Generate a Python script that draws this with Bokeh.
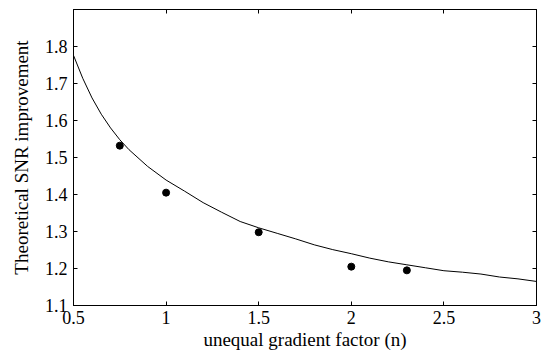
from bokeh.plotting import figure
from bokeh.models import LinearAxis, Range1d, FixedTicker
from bokeh.embed import file_html
from bokeh.resources import INLINE

# theoretical curve
curve_n = [0.5, 0.55, 0.6, 0.65, 0.7, 0.75, 0.8, 0.9, 1.0, 1.1, 1.2, 1.3, 1.4, 1.5,
           1.6, 1.7, 1.8, 1.9, 2.0, 2.1, 2.2, 2.3, 2.4, 2.5, 2.6, 2.7, 2.8, 2.9, 3.0]
curve_snr = [1.776, 1.714, 1.661, 1.617, 1.580, 1.548, 1.521, 1.476, 1.439, 1.409,
             1.378, 1.352, 1.327, 1.310, 1.295, 1.280, 1.264, 1.251, 1.240, 1.228,
             1.218, 1.210, 1.202, 1.194, 1.190, 1.185, 1.177, 1.172, 1.165]

# measured points
meas_n = [0.75, 1.0, 1.5, 2.0, 2.3]
meas_snr = [1.532, 1.405, 1.298, 1.205, 1.195]

x_ticks = [0.5, 1, 1.5, 2, 2.5, 3]
y_ticks = [1.1, 1.2, 1.3, 1.4, 1.5, 1.6, 1.7, 1.8]

FONT = "Liberation Serif"

p = figure(frame_width=463, frame_height=296, output_backend="svg", toolbar_location=None,
           x_range=Range1d(0.5, 3.0), y_range=Range1d(1.1, 1.9),
           min_border_left=73, min_border_right=7, min_border_top=9, min_border_bottom=42)
p.background_fill_color = "white"
p.border_fill_color = "white"
p.outline_line_color = "black"
p.outline_line_width = 1
p.grid.visible = False

p.line(curve_n, curve_snr, line_color="black", line_width=1)
p.scatter(meas_n, meas_snr, size=7, fill_color="black", line_color="black")

xa = p.xaxis[0]
xa.ticker = FixedTicker(ticks=x_ticks)
ya = p.yaxis[0]
ya.ticker = FixedTicker(ticks=y_ticks)
for ax in (xa, ya):
    ax.major_tick_in = 4
    ax.major_tick_out = 0
    ax.minor_tick_in = 0
    ax.minor_tick_out = 0
    ax.axis_line_color = "black"
    ax.major_tick_line_color = "black"
    ax.major_label_text_font = FONT
    ax.major_label_text_font_size = "18px"
    ax.major_label_text_color = "black"
    ax.axis_label_text_font = FONT
    ax.axis_label_text_font_style = "normal"
    ax.axis_label_text_font_size = "19px"
    ax.axis_label_text_color = "black"
xa.axis_label = "unequal gradient factor (n)"
xa.major_label_standoff = 5
xa.axis_label_standoff = 2
ya.axis_label = "Theoretical SNR improvement"
ya.major_label_standoff = 6
ya.axis_label_standoff = 10

top = LinearAxis(ticker=FixedTicker(ticks=x_ticks),
                 major_label_overrides={t: "" for t in x_ticks})
right = LinearAxis(ticker=FixedTicker(ticks=y_ticks),
                   major_label_overrides={t: "" for t in y_ticks})
for ax in (top, right):
    ax.major_tick_in = 4
    ax.major_tick_out = 0
    ax.minor_tick_in = 0
    ax.minor_tick_out = 0
    ax.major_label_standoff = 0
    ax.axis_line_color = "black"
    ax.major_tick_line_color = "black"
p.add_layout(top, "above")
p.add_layout(right, "right")

open("out.html", "w").write(file_html(p, INLINE))
